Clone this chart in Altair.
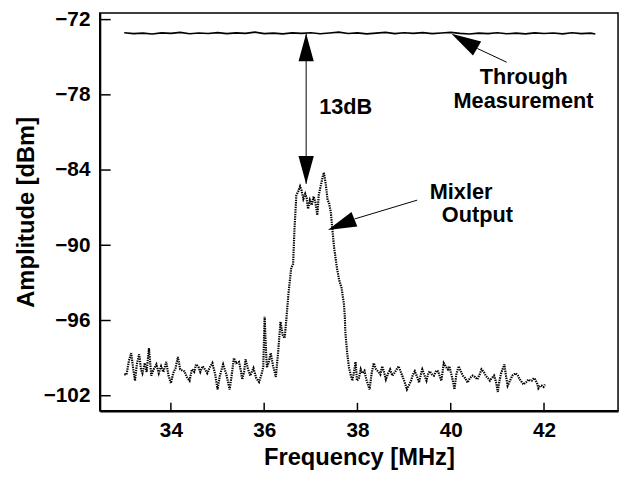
import altair as alt
import pandas as pd

# ---------------- data ----------------
through_freq = [33.0, 33.2, 33.4, 33.6, 33.8, 34.0, 34.2, 34.4, 34.6, 34.8,
                35.0, 35.2, 35.4, 35.6, 35.8, 36.0, 36.2, 36.4, 36.6, 36.8,
                37.0, 37.2, 37.4, 37.6, 37.8, 38.0, 38.2, 38.4, 38.6, 38.8,
                39.0, 39.2, 39.4, 39.6, 39.8, 40.0, 40.2, 40.4, 40.6, 40.8,
                41.0, 41.2, 41.4, 41.6, 41.8, 42.0, 42.2, 42.4, 42.6, 42.8,
                43.0, 43.1]
through_amp = [-73.05, -73.12, -73.08, -73.15, -73.06, -73.10, -73.02, -73.13, -73.07, -73.11,
               -73.04, -73.12, -73.06, -73.10, -73.00, -73.12, -73.08, -73.14, -73.06, -73.10,
               -73.05, -73.13, -73.07, -73.00, -73.11, -73.06, -73.14, -73.08, -73.02, -73.12,
               -73.05, -73.10, -73.04, -73.12, -73.07, -73.02, -73.10, -73.15, -73.08, -73.12,
               -73.05, -73.13, -73.08, -73.14, -73.06, -73.11, -73.07, -73.14, -73.05, -73.12,
               -73.08, -73.15]

mixer_freq = [33.00, 33.05, 33.10, 33.15, 33.19, 33.23, 33.27, 33.32, 33.36, 33.39,
              33.44, 33.48, 33.53, 33.58, 33.63, 33.69, 33.74, 33.79, 33.84, 33.90,
              33.95, 34.00, 34.05, 34.10, 34.15, 34.20, 34.25, 34.29, 34.34, 34.40,
              34.45, 34.50, 34.54, 34.59, 34.63, 34.68, 34.73, 34.78, 34.84, 34.89,
              34.95, 35.00, 35.05, 35.12, 35.19, 35.26, 35.31, 35.35, 35.40, 35.46,
              35.50, 35.53, 35.57, 35.60, 35.65, 35.70, 35.77, 35.83, 35.89, 35.95,
              35.98, 36.01, 36.04, 36.06, 36.10, 36.14, 36.19, 36.25, 36.30, 36.35,
              36.40, 36.44, 36.48, 36.52, 36.58, 36.62, 36.65, 36.69, 36.73, 36.77,
              36.80, 36.84, 36.88, 36.91, 36.94, 36.98, 37.02, 37.06, 37.10, 37.14,
              37.17, 37.21, 37.25, 37.28, 37.32, 37.36, 37.39, 37.43, 37.46, 37.50,
              37.56, 37.61, 37.66, 37.71, 37.73, 37.74, 37.78, 37.82, 37.86, 37.89,
              37.93, 37.96, 37.99, 38.03, 38.07, 38.10, 38.15, 38.19, 38.26, 38.30,
              38.35, 38.40, 38.44, 38.49, 38.53, 38.57, 38.61, 38.66, 38.70, 38.75,
              38.79, 38.84, 38.88, 38.92, 38.96, 39.01, 39.06, 39.10, 39.15, 39.19,
              39.23, 39.28, 39.32, 39.36, 39.39, 39.44, 39.48, 39.52, 39.55, 39.60,
              39.64, 39.69, 39.73, 39.77, 39.80, 39.85, 39.90, 39.94, 39.97, 40.02,
              40.05, 40.08, 40.12, 40.17, 40.21, 40.26, 40.31, 40.36, 40.41, 40.47,
              40.52, 40.57, 40.62, 40.66, 40.71, 40.75, 40.80, 40.84, 40.88, 40.93,
              40.97, 41.01, 41.04, 41.08, 41.12, 41.15, 41.18, 41.22, 41.27, 41.32,
              41.36, 41.39, 41.44, 41.48, 41.52, 41.56, 41.62, 41.67, 41.71, 41.74,
              41.78, 41.81, 41.85, 41.88, 41.92, 41.95, 41.99, 42.02]
mixer_amp = [-100.3, -100.3, -99.2, -98.6, -99.8, -100.8, -99.5, -98.7, -99.9, -100.2,
             -99.4, -100.1, -98.2, -100.4, -99.9, -99.5, -100.2, -99.65, -100.1, -99.3,
             -100.4, -101.0, -100.2, -99.8, -98.9, -99.9, -100.0, -100.05, -100.5, -100.8,
             -99.9, -100.1, -99.5, -99.7, -100.1, -99.65, -99.9, -100.2, -99.7, -99.4,
             -100.3, -101.5, -100.4, -99.5, -100.3, -101.5, -100.2, -99.0, -99.4, -99.3,
             -100.0, -100.7, -100.1, -99.1, -99.8, -100.4, -99.8, -100.6, -100.9, -100.2,
             -99.7, -95.7, -98.5, -99.75, -99.3, -98.6, -99.6, -100.5, -98.5, -96.1,
             -97.2, -97.4, -95.7, -93.9, -91.8, -91.5, -88.7, -86.0, -85.7, -85.3,
             -85.6, -86.3, -85.9, -86.2, -87.1, -86.4, -86.8, -86.1, -86.6, -87.6,
             -86.0, -85.3, -84.6, -84.2, -85.1, -86.4, -86.6, -87.4, -88.65, -90.2,
             -91.8, -92.8, -93.4, -94.7, -95.7, -96.9, -98.6, -99.8, -100.4, -100.8,
             -100.0, -99.3, -100.8, -100.6, -99.9, -100.2, -100.0, -100.7, -101.5, -100.3,
             -99.4, -99.9, -100.05, -100.3, -99.65, -100.1, -100.7, -100.2, -99.9, -100.4,
             -100.2, -99.9, -99.65, -100.0, -100.4, -100.9, -101.5, -101.2, -100.8, -100.3,
             -100.05, -100.5, -100.95, -100.3, -99.9, -100.4, -100.8, -100.2, -100.05, -100.3,
             -100.4, -100.0, -100.05, -100.5, -100.8, -99.4, -99.7, -99.9, -99.65, -100.4,
             -100.9, -101.5, -100.3, -99.65, -100.0, -100.4, -100.6, -100.95, -100.6, -100.4,
             -100.5, -100.7, -100.3, -99.9, -100.1, -100.4, -100.6, -100.8, -100.6, -100.4,
             -100.9, -101.7, -100.9, -100.2, -99.8, -99.5, -100.3, -101.2, -100.8, -100.4,
             -100.3, -100.2, -100.4, -100.7, -100.9, -101.1, -100.9, -100.7, -100.8, -100.8,
             -100.6, -100.7, -101.0, -101.4, -101.2, -101.2, -101.3, -101.1]

x_ticks = [34, 36, 38, 40, 42]
y_ticks = [-72, -78, -84, -90, -96, -102]

# annotations
shaft_x = [36.90]
shaft_y = [-73.1]
shaft_y2 = [-85.1]

head_x = [36.90, 36.90, 40.29, 37.65]
head_y = [-74.22, -84.0, -73.71, -88.35]
head_angle = [0, 180, 300, 248]
head_size = [784, 800, 900, 841]

leader_x = [40.57, 37.94]
leader_y = [-74.3, -87.9]
leader_x2 = [41.20, 39.28]
leader_y2 = [-75.4, -86.4]

label_text = ["13dB", "Through", "Measurement", "Mixler", "Output"]
label_x = [37.18, 40.62, 40.06, 39.55, 39.81]
label_y = [-79.56, -77.13, -79.09, -86.32, -88.13]

# ---------------- chart ----------------
W, H = 525, 403
FONT = "Liberation Sans"
xscale = alt.Scale(domain=[32.476, 43.587], nice=False, zero=False)
yscale = alt.Scale(domain=[-103.2, -71.47], nice=False, zero=False)

x_axis = alt.Axis(values=x_ticks, format="d", title="Frequency [MHz]", ticks=False, tickSize=0,
                  grid=False, labelFontSize=21, labelFont=FONT, labelFontWeight="bold",
                  labelPadding=9, labelColor="black", titleFont=FONT, titleFontSize=24,
                  titleFontWeight="bold", titlePadding=5, titleColor="black",
                  domainColor="black", domainWidth=2.5)
y_axis = alt.Axis(values=y_ticks, format="d", title="Amplitude [dBm]", ticks=False, tickSize=0,
                  grid=False, labelFontSize=21, labelFont=FONT, labelFontWeight="bold",
                  labelPadding=10, labelColor="black", titleFont=FONT, titleFontSize=24,
                  titleFontWeight="bold", titlePadding=5, titleColor="black",
                  domainColor="black", domainWidth=2)


def X(field):
    return alt.X(field, scale=xscale, axis=x_axis)


def Y(field):
    return alt.Y(field, scale=yscale, axis=y_axis)


through_df = pd.DataFrame({"freq": through_freq, "amp": through_amp})
mixer_df = pd.DataFrame({"freq": mixer_freq, "amp": mixer_amp})

through = alt.Chart(through_df).mark_line(color="black", strokeWidth=1.6).encode(
    x=X("freq:Q"), y=Y("amp:Q"),
)

mixer = alt.Chart(mixer_df).mark_line(color="black", strokeWidth=2.2, strokeDash=[1.4, 1.0]).encode(
    x=X("freq:Q"), y=Y("amp:Q"),
)

xt = alt.Chart(pd.DataFrame({"freq": x_ticks})).mark_rule(color="black", strokeWidth=1.5).encode(
    x=X("freq:Q"), y=alt.value(H), y2=alt.value(H - 8),
)
yt = alt.Chart(pd.DataFrame({"amp": y_ticks})).mark_rule(color="black", strokeWidth=1.5).encode(
    y=Y("amp:Q"), x=alt.value(0), x2=alt.value(11),
)

shaft = alt.Chart(pd.DataFrame({"freq": shaft_x, "amp": shaft_y, "amp2": shaft_y2})).mark_rule(
    color="black", strokeWidth=1).encode(
    x=X("freq:Q"), y=Y("amp:Q"), y2="amp2:Q",
)

heads = alt.Chart(pd.DataFrame({"freq": head_x, "amp": head_y, "a": head_angle, "s": head_size})).mark_point(
    shape="M0,-1L0.55,1L-0.55,1Z", filled=True, color="black", opacity=1, strokeWidth=0).encode(
    x=X("freq:Q"), y=Y("amp:Q"),
    angle=alt.Angle("a:Q", scale=None),
    size=alt.Size("s:Q", scale=None, legend=None),
)

leaders = alt.Chart(pd.DataFrame({"freq": leader_x, "amp": leader_y, "freq2": leader_x2, "amp2": leader_y2})).mark_rule(
    color="black", strokeWidth=1).encode(
    x=X("freq:Q"), x2="freq2:Q", y=Y("amp:Q"), y2="amp2:Q",
)

labels = alt.Chart(pd.DataFrame({"freq": label_x, "amp": label_y, "t": label_text})).mark_text(
    align="left", baseline="alphabetic", font=FONT, fontSize=22, fontWeight="bold", color="black").encode(
    x=X("freq:Q"), y=Y("amp:Q"), text="t:N",
)

chart = alt.layer(through, mixer, xt, yt, shaft, heads, leaders, labels).properties(
    width=W, height=H,
    autosize=alt.AutoSizeParams(type="none"),
    padding={"left": 93, "top": 2, "right": 3, "bottom": 59},
    background="white",
).configure_view(stroke="black", strokeWidth=1.5)

chart.save("out.html", embed_options={"renderer": "svg", "actions": False})
